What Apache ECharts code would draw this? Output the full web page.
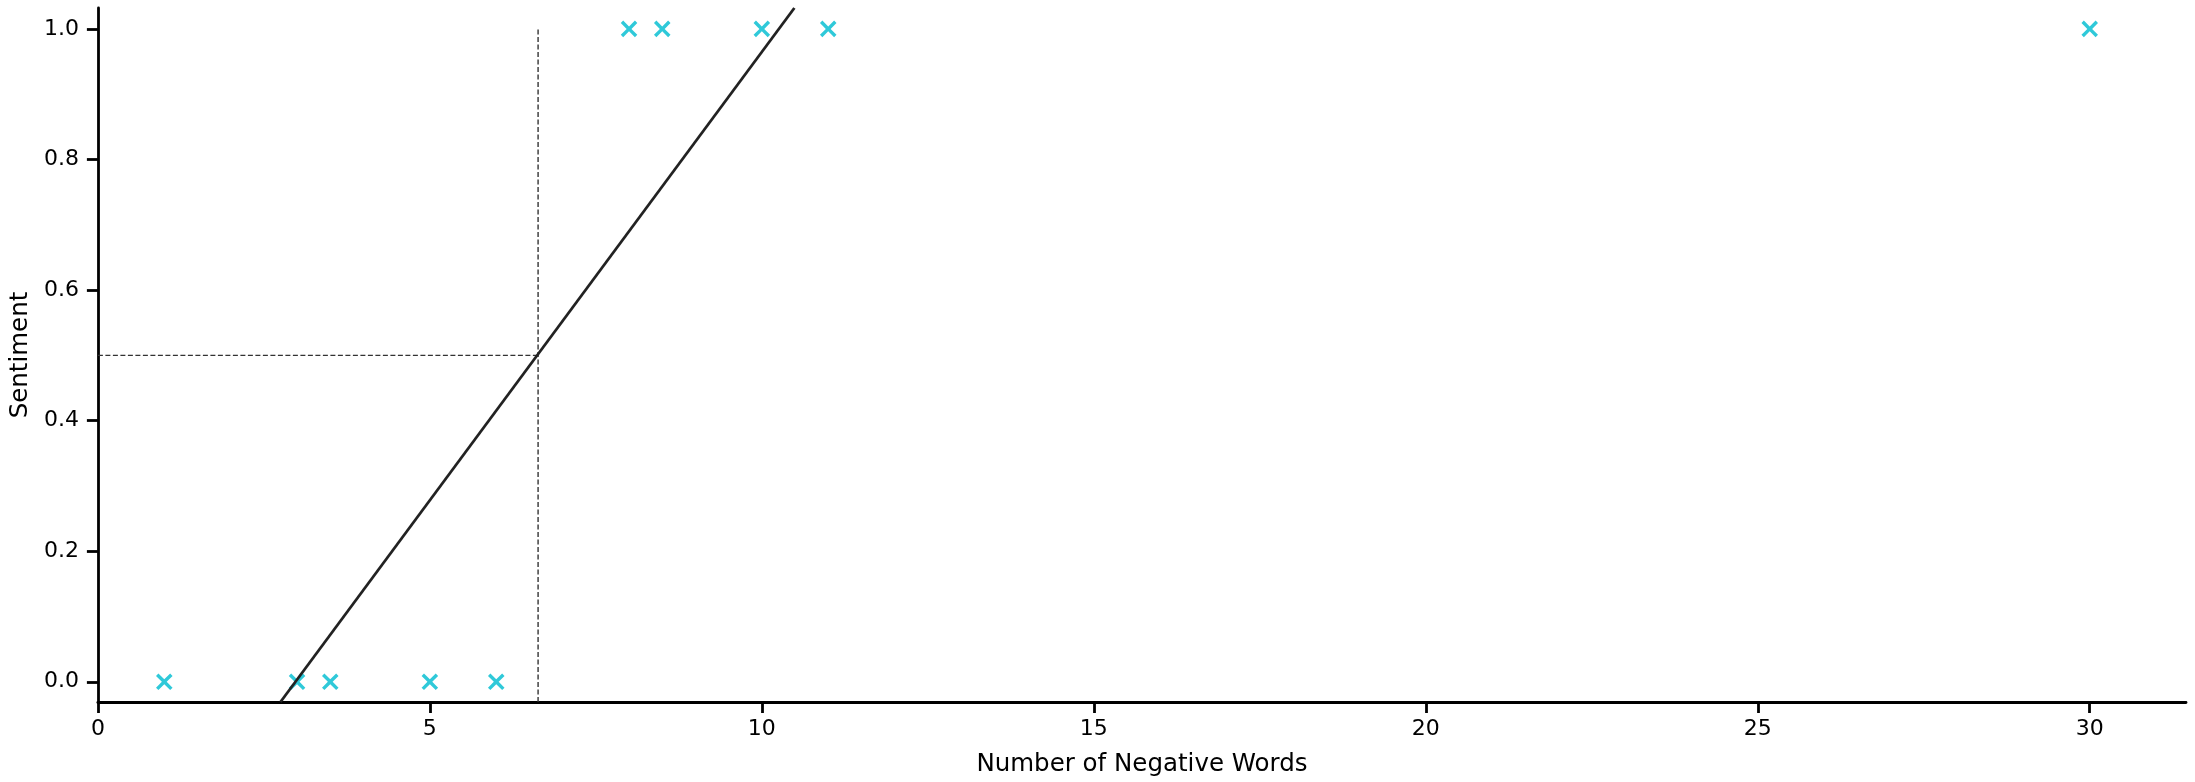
<!DOCTYPE html>
<html>
<head>
<meta charset="utf-8">
<script src="https://cdn.jsdelivr.net/npm/echarts@6/dist/echarts.min.js"></script>
<style>html,body{margin:0;padding:0;background:#fff}#c{width:2195px;height:782px}</style>
</head>
<body>
<div id="c"></div>
<script>
// data
var negWords0 = [1, 3, 3.5, 5, 6];
var negWords1 = [8, 8.5, 10, 11, 30];
var sentiment0 = [0, 0, 0, 0, 0];
var sentiment1 = [1, 1, 1, 1, 1];
var fitLineX = [2.75, 10.49];
var fitLineY = [-0.031, 1.032];
var threshold = 0.5;
var thresholdX = 6.63;
var xTicks = [0, 5, 10, 15, 20, 25, 30];
var yTicks = [0, 0.2, 0.4, 0.6, 0.8, 1.0];

var yMin = -0.031, yMax = 1.032, xMin = 0, xMax = 31.45;
var cyan = '#2fc9d9';
var font = 'DejaVu Sans';

var pts = [];
negWords0.forEach(function (x, i) { pts.push([x, sentiment0[i]]); });
negWords1.forEach(function (x, i) { pts.push([x, sentiment1[i]]); });
var line = fitLineX.map(function (x, i) { return [x, fitLineY[i]]; });

var chart = echarts.init(document.getElementById('c'));
chart.setOption({
  animation: false,
  backgroundColor: '#fff',
  grid: { left: 94, right: 9, top: 8, bottom: 80, containLabel: false },
  xAxis: {
    type: 'value', min: xMin, max: xMax,
    name: 'Number of Negative Words', nameLocation: 'middle', nameGap: 50,
    nameTextStyle: { fontFamily: font, fontSize: 24.5, color: '#000' },
    splitLine: { show: false },
    axisLine: { show: true, onZero: false, lineStyle: { color: '#000', width: 2.8 } },
    axisTick: { show: true, length: 11, lineStyle: { color: '#000', width: 2.8 }, customValues: xTicks },
    axisLabel: { fontFamily: font, fontSize: 22, color: '#000', margin: 16, customValues: xTicks }
  },
  yAxis: {
    type: 'value', min: yMin, max: yMax,
    name: 'Sentiment', nameLocation: 'middle', nameGap: 58,
    nameTextStyle: { fontFamily: font, fontSize: 24.5, color: '#000' },
    splitLine: { show: false },
    axisLine: { show: true, onZero: false, lineStyle: { color: '#000', width: 2.8 } },
    axisTick: { show: true, length: 11, lineStyle: { color: '#000', width: 2.8 }, customValues: yTicks },
    axisLabel: { fontFamily: font, fontSize: 22, color: '#000', margin: 19, customValues: yTicks,
      formatter: function (v) { return v.toFixed(1); } }
  },
  series: [
    {
      type: 'line', data: [[xMin, threshold], [thresholdX, threshold]], symbol: 'none',
      lineStyle: { color: '#333', width: 1.4, type: [5, 2.5] }, z: 2
    },
    {
      type: 'line', data: [[thresholdX, yMin], [thresholdX, 1.0]], symbol: 'none',
      lineStyle: { color: '#333', width: 1.4, type: [5, 2.5] }, z: 2
    },
    {
      type: 'scatter', data: pts,
      symbol: 'path://M4.15,0H5.85V4.15H10V5.85H5.85V10H4.15V5.85H0V4.15H4.15Z',
      symbolRotate: 45, symbolSize: 20,
      itemStyle: { color: cyan, opacity: 1 }, z: 3
    },
    {
      type: 'line', data: line, symbol: 'none',
      lineStyle: { color: '#222', width: 2.8 }, z: 4
    }
  ]
});
</script>
</body>
</html>
